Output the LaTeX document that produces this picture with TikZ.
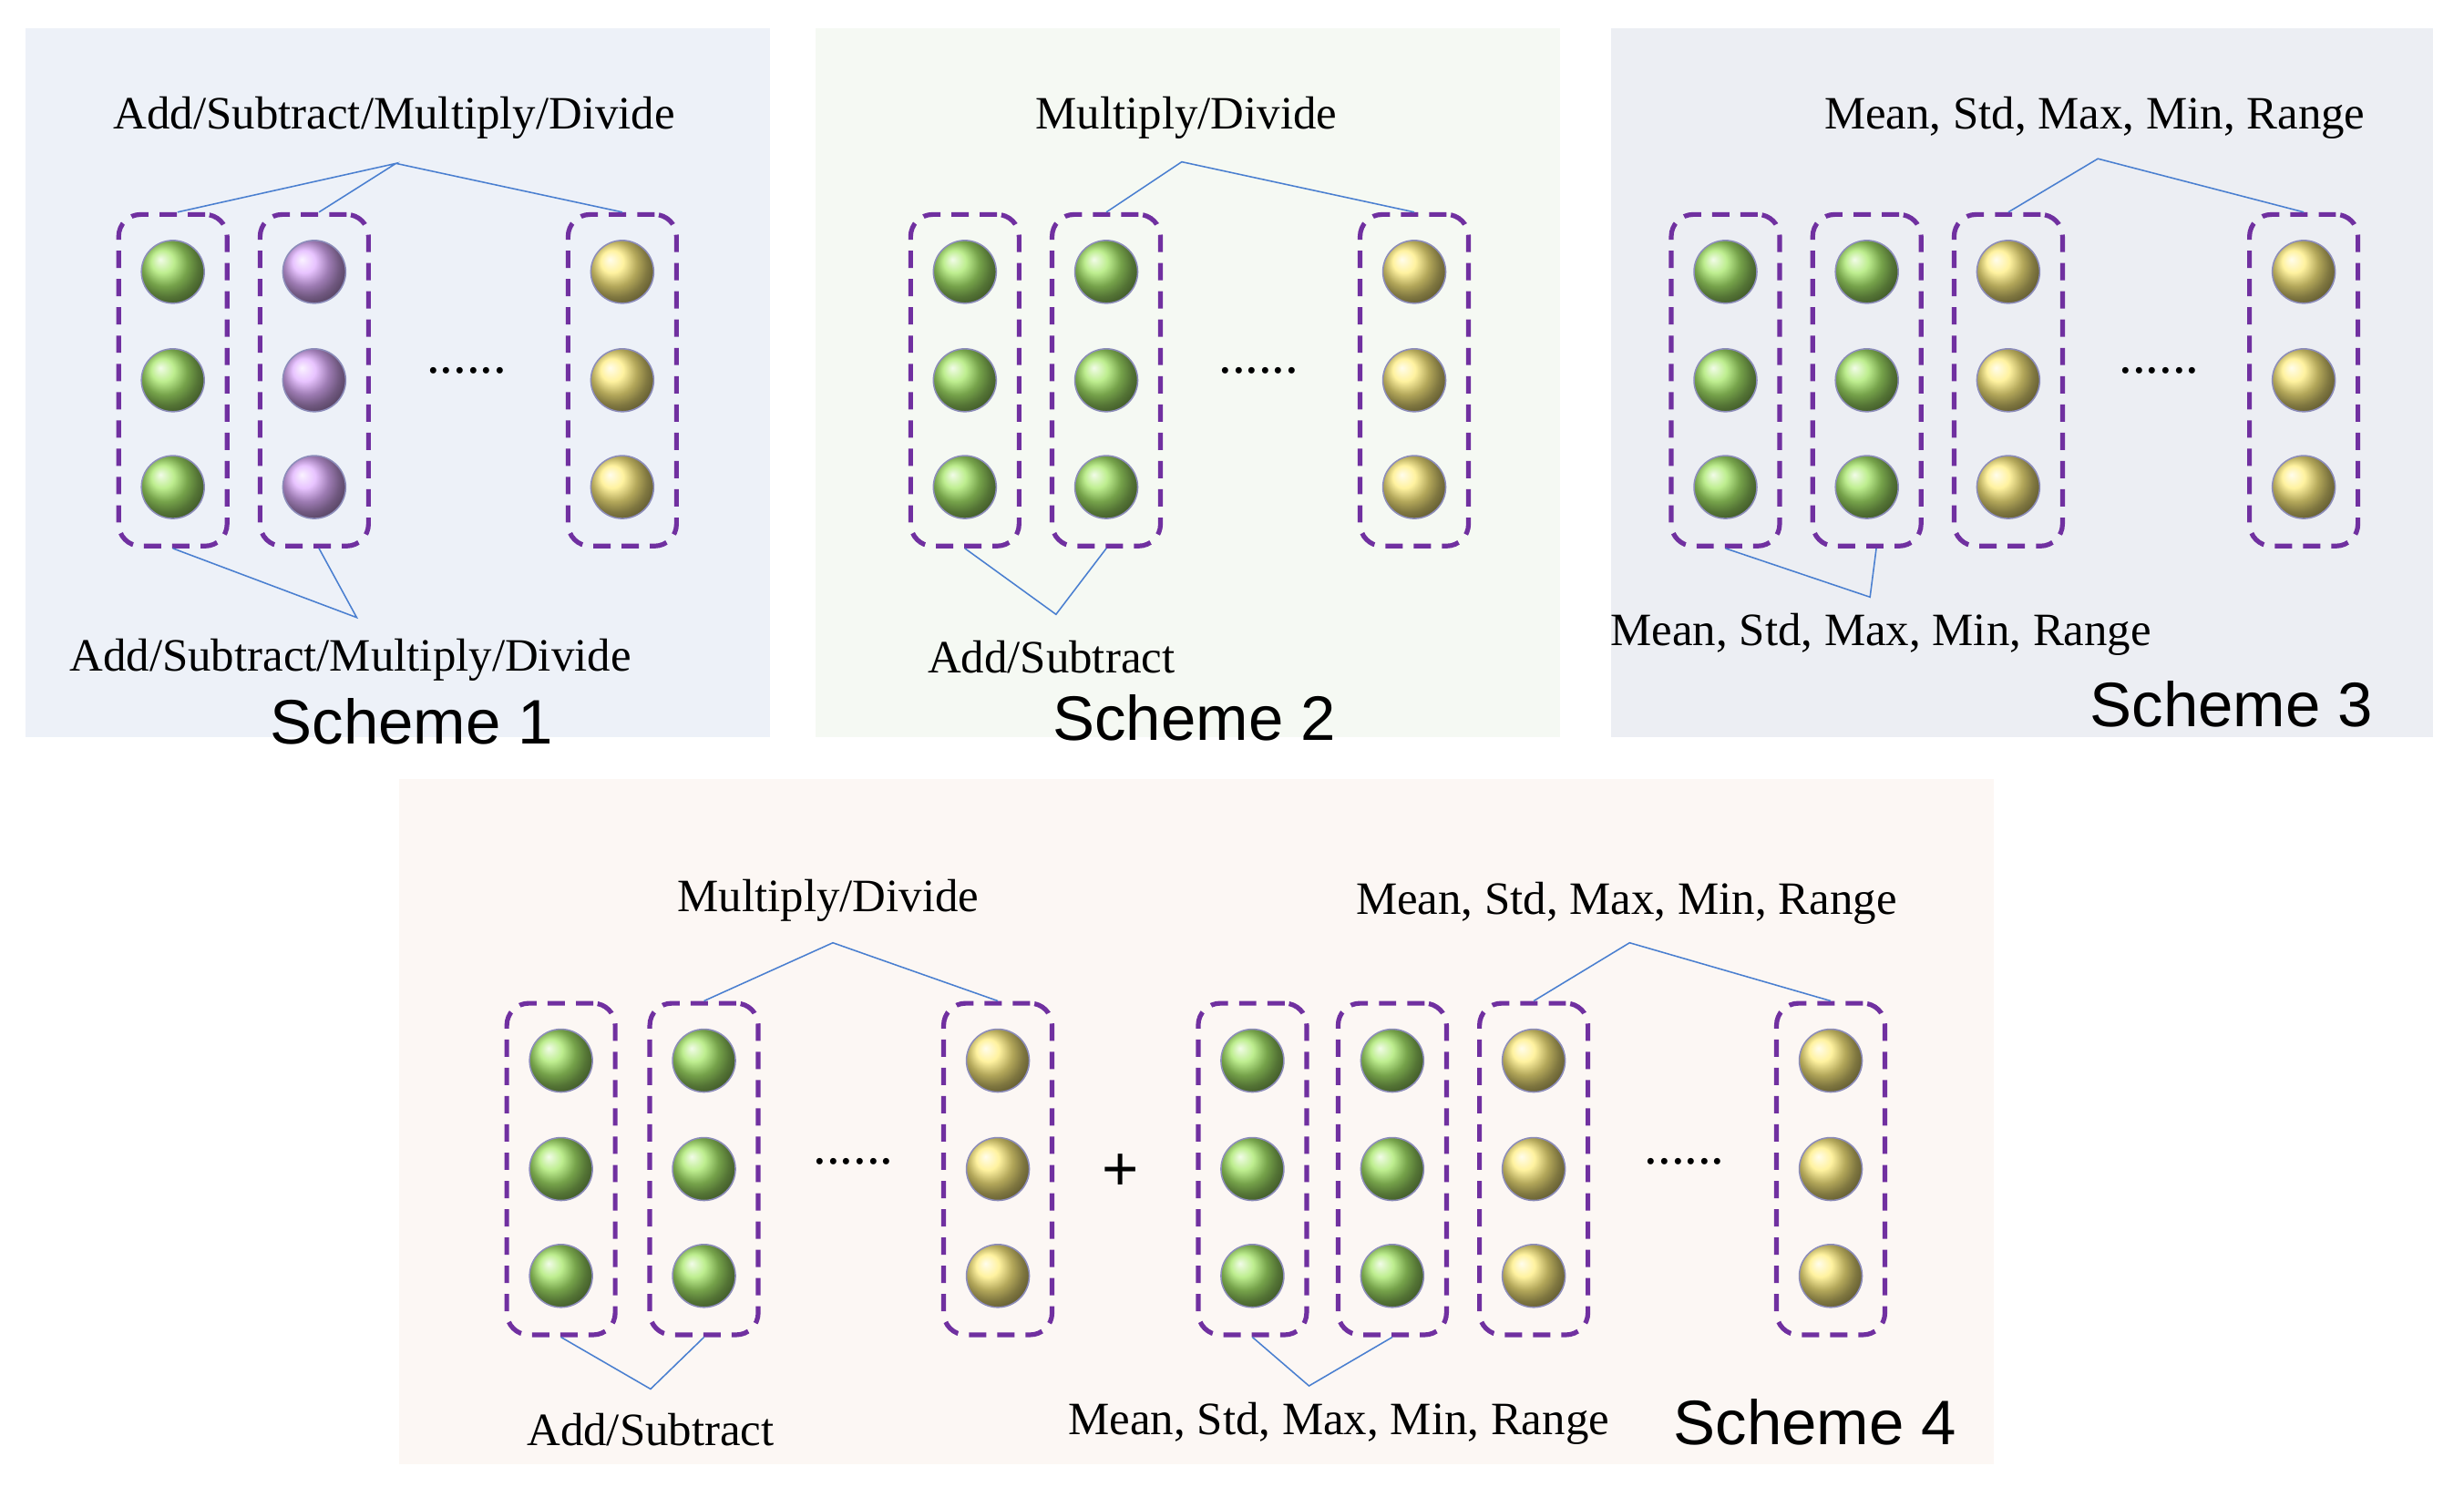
\documentclass[tikz,border=0pt]{standalone}
\usepackage{fontspec}
\setmainfont{Liberation Serif}
\newfontfamily\sansf{Liberation Sans}
\definecolor{pb}{HTML}{7030A0}
\definecolor{ln}{HTML}{4A7FD0}
\definecolor{gr}{HTML}{A8E86A}
\definecolor{pu}{HTML}{E0B0FF}
\definecolor{ye}{HTML}{FFEE80}
\definecolor{bg1}{HTML}{EDF1F8}
\definecolor{bg2}{HTML}{F5F9F3}
\definecolor{bg3}{HTML}{ECEEF3}
\definecolor{bg4}{HTML}{FCF7F4}
\tikzset{
 box/.style={draw=pb,line width=3pt,dash pattern=on 11pt off 7pt,rounded corners=14pt,minimum width=69pt,minimum height=211pt,inner sep=0pt},
 ball/.style={circle,minimum size=40pt,inner sep=0pt,shading=ball,ball color=#1,draw=black!60!blue!45,line width=0.9pt},
 conn/.style={draw=ln,line width=0.9pt},
 lab/.style={font=\fontsize{29.5}{32}\selectfont,inner sep=0pt},
 sch/.style={font=\sansf\fontsize{40}{44}\selectfont,inner sep=0pt},
 dots/.style={font=\fontsize{34}{36}\selectfont,inner sep=0pt}
}
\newcommand\mkcol[4]{%
 \node[box] (#1) at (#2,#3) {};
 \node[ball=#4] (#1a) at (#2,#3-69) {};
 \node[ball=#4] (#1b) at (#2,#3) {};
 \node[ball=#4] (#1c) at (#2,#3+68) {};}
\begin{document}
\begin{tikzpicture}[x=1pt,y=-1pt]
\useasboundingbox (0,0) rectangle (1568,946);
\fill[white] (0,0) rectangle (1568,946);
\fill[bg1] (16,18) rectangle (490,469);
\fill[bg2] (519,18) rectangle (993,469);
\fill[bg3] (1025,18) rectangle (1548,469);
\fill[bg4] (254,496) rectangle (1269,932);
% Scheme 1
\mkcol{a1}{110}{242}{gr}\mkcol{a2}{200}{242}{pu}\mkcol{a3}{396}{242}{ye}
\node[dots] (ad) at (297,236) {......};
\node[lab] (at) at (251,75) {Add/Subtract/Multiply/Divide};
\coordinate (aA) at (252,104);
\draw[conn] ([xshift=3pt]a1.north) -- (aA) -- ([xshift=3pt]a2.north);
\draw[conn] (aA) -- (a3.north);
\node[lab] (ab) at (223,420) {Add/Subtract/Multiply/Divide};
\coordinate (aB) at (227,393);
\draw[conn] (a1.south) -- (aB) -- ([xshift=3pt]a2.south);
\node[sch] (as) at (262,459) {Scheme 1};
% Scheme 2
\mkcol{b1}{614}{242}{gr}\mkcol{b2}{704}{242}{gr}\mkcol{b3}{900}{242}{ye}
\node[dots] (bd) at (801,236) {......};
\node[lab] (bt) at (755,75) {Multiply/Divide};
\coordinate (bA) at (752,103);
\draw[conn] (b2.north) -- (bA) -- (b3.north);
\node[lab] (bb) at (669,418) {Add/Subtract};
\coordinate (bB) at (672,391);
\draw[conn] (b1.south) -- (bB) -- (b2.south);
\node[sch] (bs) at (760,457) {Scheme 2};
% Scheme 3
\mkcol{c1}{1098}{242}{gr}\mkcol{c2}{1188}{242}{gr}\mkcol{c3}{1278}{242}{ye}\mkcol{c4}{1466}{242}{ye}
\node[dots] (cd) at (1374,236) {......};
\node[lab] (ct) at (1333,75) {Mean, Std, Max, Min, Range};
\coordinate (cA) at (1335,101);
\draw[conn] (c3.north) -- (cA) -- (c4.north);
\node[lab] (cb) at (1197,404) {Mean, Std, Max, Min, Range};
\coordinate (cB) at (1190,380);
\draw[conn] (c1.south) -- (cB) -- ([xshift=6pt]c2.south);
\node[sch] (cs) at (1420,448) {Scheme 3};
% Scheme 4
\mkcol{d1}{357}{744}{gr}\mkcol{d2}{448}{744}{gr}\mkcol{d3}{635}{744}{ye}
\node[dots] (dd) at (543,739) {......};
\node[lab] (dt) at (527,573) {Multiply/Divide};
\coordinate (dA) at (530,600);
\draw[conn] (d2.north) -- (dA) -- (d3.north);
\node[lab] (db) at (414,910) {Add/Subtract};
\coordinate (dB) at (414,884);
\draw[conn] (d1.south) -- (dB) -- (d2.south);
\node[font=\sansf\fontsize{40}{44}\selectfont,inner sep=0pt] (plus) at (713,746) {+};
\mkcol{e1}{797}{744}{gr}\mkcol{e2}{886}{744}{gr}\mkcol{e3}{976}{744}{ye}\mkcol{e4}{1165}{744}{ye}
\node[dots] (ed) at (1072,739) {......};
\node[lab] (et) at (1035,575) {Mean, Std, Max, Min, Range};
\coordinate (eA) at (1037,600);
\draw[conn] (e3.north) -- (eA) -- (e4.north);
\node[lab] (eb) at (852,906) {Mean, Std, Max, Min, Range};
\coordinate (eB) at (833,882);
\draw[conn] (e1.south) -- (eB) -- (e2.south);
\node[sch] (es) at (1155,905) {Scheme 4};
\end{tikzpicture}
\end{document}
